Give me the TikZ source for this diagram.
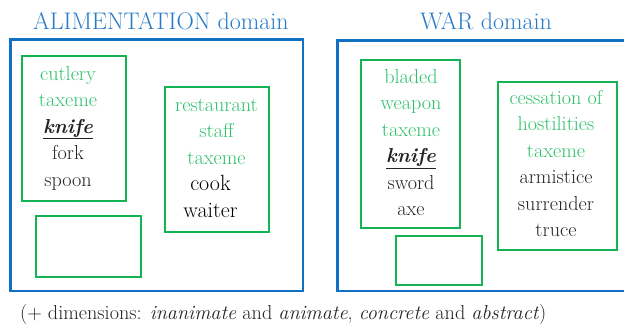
\documentclass[tikz,border=0pt]{standalone}
\usepackage{tikz}
\definecolor{domblue}{RGB}{16,112,196}
\definecolor{titleblue}{RGB}{40,122,198}
\definecolor{boxgreen}{RGB}{20,180,85}
\definecolor{txtgreen}{RGB}{45,192,105}
\definecolor{txtdark}{RGB}{35,35,35}
\tikzset{
  dombox/.style={draw=domblue, line width=2.3pt, inner sep=0pt, outer sep=0pt},
  taxbox/.style={draw=boxgreen, line width=1.8pt, inner sep=0pt, outer sep=0pt},
  titletext/.style={text=titleblue, font=\fontsize{24}{27}\selectfont, anchor=base, inner sep=0pt},
  gline/.style={text=txtgreen, font=\fontsize{20.2}{23}\selectfont, anchor=base, inner sep=0pt},
  kline/.style={text=txtdark, font=\fontsize{20.2}{23}\selectfont, anchor=base, inner sep=0pt},
  bigkline/.style={text=black, font=\fontsize{22}{25}\selectfont, anchor=base, inner sep=0pt},
  notetext/.style={text=txtdark, font=\fontsize{20.2}{23}\selectfont, anchor=base west, inner sep=0pt}
}
\newcommand{\keyword}[1]{\underline{\textbf{\textit{#1}}}}
\begin{document}
\begin{tikzpicture}[x=1pt,y=-1pt]
\useasboundingbox (0,0) rectangle (624,327);
% domains
\node[dombox, minimum width=292.7pt, minimum height=251.5pt] (alim) at (156.7,165.3) {};
\node[dombox, minimum width=292.7pt, minimum height=250.5pt] (war) at (483.7,165.8) {};
\node[titletext] (alimtitle) at (161,29.5) {ALIMENTATION domain};
\node[titletext] (wartitle) at (486,29.5) {WAR domain};
% alimentation taxemes
\node[taxbox, minimum width=104.6pt, minimum height=145.3pt] (cutlery) at (74,128.3) {};
\node[taxbox, minimum width=105pt, minimum height=61.3pt] (emptyA) at (88.8,246.3) {};
\node[taxbox, minimum width=104.6pt, minimum height=145pt] (staff) at (217,159.5) {};
\node[gline] (c1) at (68,80) {cutlery};
\node[gline] (c2) at (68,106.5) {taxeme};
\node[kline] (c3) at (68,133) {\keyword{knife}};
\node[kline] (c4) at (68,159.5) {fork};
\node[kline] (c5) at (68,186) {spoon};
\node[gline] (s1) at (216.5,111) {restaurant};
\node[gline] (s2) at (216.5,137.5) {staff};
\node[gline] (s3) at (216.5,164) {taxeme};
\node[bigkline] (s4) at (210.5,190.5) {cook};
\node[bigkline] (s5) at (210.5,217) {waiter};
% war taxemes
\node[taxbox, minimum width=98.4pt, minimum height=168pt] (bladed) at (410.5,144) {};
\node[taxbox, minimum width=86.3pt, minimum height=48.4pt] (emptyW) at (439.2,260.5) {};
\node[taxbox, minimum width=119.3pt, minimum height=168pt] (cessation) at (557.7,165.7) {};
\node[gline] (b1) at (411,83) {bladed};
\node[gline] (b2) at (411,109.5) {weapon};
\node[gline] (b3) at (411,136) {taxeme};
\node[kline] (b4) at (411,162.5) {\keyword{knife}};
\node[kline] (b5) at (411,189) {sword};
\node[kline] (b6) at (411,215.5) {axe};
\node[gline] (h1) at (556,104) {cessation of};
\node[gline] (h2) at (556,130.5) {hostilities};
\node[gline] (h3) at (556,157) {taxeme};
\node[kline] (h4) at (556,183.5) {armistice};
\node[kline] (h5) at (556,210) {surrender};
\node[kline] (h6) at (556,236.5) {truce};
% note
\node[notetext] (note) at (20,319) {(+ dimensions: \textit{inanimate} and \textit{animate}, \textit{concrete} and \textit{abstract})};
\end{tikzpicture}
\end{document}
